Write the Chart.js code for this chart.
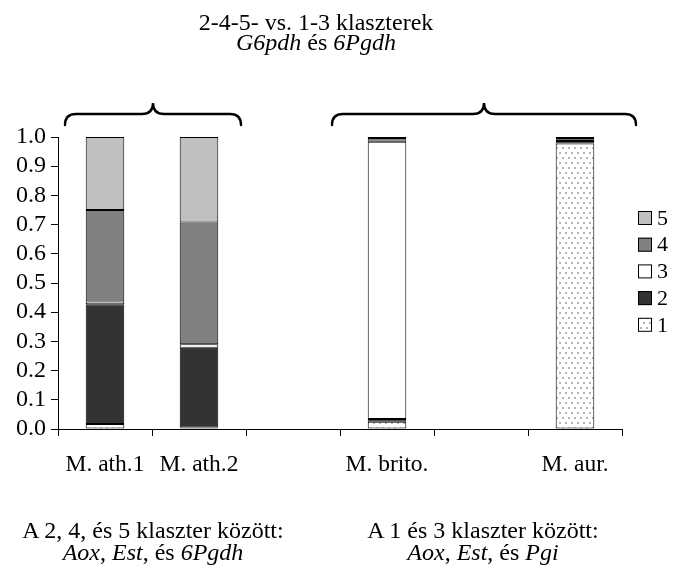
<!DOCTYPE html>
<html>
<head>
<meta charset="utf-8">
<script src="https://cdn.jsdelivr.net/npm/chart.js@4/dist/chart.umd.min.js"></script>
<style>
  html, body { margin:0; padding:0; background:#fff; }
  #wrap { position:relative; width:674px; height:568px; overflow:hidden; }
  canvas { position:absolute; left:0; top:0; }
  .txt { position:absolute; font-family:'Liberation Serif', serif; font-size:24px; line-height:22px; color:#000; text-align:center; white-space:nowrap; }
  .txt i { font-family:'Liberation Serif', serif; font-style:italic; }
</style>
</head>
<body>
<div id="wrap">
  <canvas id="c" width="674" height="568"></canvas>
  <div class="txt" style="left:116px; top:12px; width:400px; line-height:20px;">2-4-5- vs. 1-3 klaszterek<br><i>G6pdh</i> és <i>6Pgdh</i></div>
  <div class="txt" style="left:-47px; top:519px; width:400px;">A 2, 4, és 5 klaszter között:<br><i>Aox</i>, <i>Est</i>, és <i>6Pgdh</i></div>
  <div class="txt" style="left:283px; top:519px; width:400px;">A 1 és 3 klaszter között:<br><i>Aox</i>, <i>Est</i>, és <i>Pgi</i></div>
</div>
<script>
// ---- data ----
const categories = ["M. ath.1", "M. ath.2", "", "M. brito.", "", "M. aur."];
const seriesNames = ["1", "2", "3", "4", "5"];
const s1 = [0.017, 0.005, null, 0.025, null, 0.978];
const s2 = [0.410, 0.273, null, 0.009, null, 0.008];
const s3 = [0.010, 0.012, null, 0.950, null, 0.006];
const s4 = [0.313, 0.417, null, 0.013, null, 0.005];
const s5 = [0.250, 0.293, null, 0.003, null, 0.003];
const yTicks = [0, 0.1, 0.2, 0.3, 0.4, 0.5, 0.6, 0.7, 0.8, 0.9, 1.0];

// ---- styles ----
function makeDots() {
  const c = document.createElement('canvas');
  c.width = 6; c.height = 10;
  const x = c.getContext('2d');
  x.fillStyle = '#ffffff'; x.fillRect(0, 0, 6, 10);
  x.fillStyle = '#b4b4b4';
  x.fillRect(1, 2, 2, 2);
  x.fillRect(4, 7, 2, 2);
  return x.createPattern(c, 'repeat');
}
const FONT = "'Liberation Serif', serif";

function build() {
  const dots = makeDots();
  const fills = [dots, '#333333', '#ffffff', '#808080', '#c0c0c0'];
  const values = [s1, s2, s3, s4, s5];

  const datasets = values.map((v, i) => ({
    label: seriesNames[i],
    data: v,
    backgroundColor: fills[i],
    borderColor: '#000000',
    borderWidth: 1,
    borderSkipped: false,
    barPercentage: 0.41,
    categoryPercentage: 1.0
  }));

  const bracePlugin = {
    id: 'braces',
    afterDraw(chart) {
      const ctx = chart.ctx, xs = chart.scales.x, top = chart.chartArea.top;
      const groups = [
        [xs.getPixelForValue(0) - 40, xs.getPixelForValue(1) + 42],
        [xs.getPixelForValue(3) - 55, xs.getPixelForValue(5) + 61]
      ];
      const yEnd = top - 12, yMid = top - 23, yPeak = top - 34, r = 11;
      ctx.save();
      ctx.strokeStyle = '#000'; ctx.lineWidth = 2.4; ctx.lineCap = 'round';
      groups.forEach(([x0, x1]) => {
        const xc = (x0 + x1) / 2;
        ctx.beginPath();
        ctx.moveTo(x0, yEnd);
        ctx.quadraticCurveTo(x0, yMid, x0 + r, yMid);
        ctx.lineTo(xc - r, yMid);
        ctx.quadraticCurveTo(xc, yMid, xc, yPeak);
        ctx.quadraticCurveTo(xc, yMid, xc + r, yMid);
        ctx.lineTo(x1 - r, yMid);
        ctx.quadraticCurveTo(x1, yMid, x1, yEnd);
        ctx.stroke();
      });
      ctx.restore();
    }
  };

  const legendPlugin = {
    id: 'sideLegend',
    afterDraw(chart) {
      const ctx = chart.ctx, area = chart.chartArea;
      const ds = chart.data.datasets.slice().reverse();
      const boxX = area.right + 16, box = 14, step = 26.7;
      let y = area.top + 81;
      ctx.save();
      ctx.font = '22px ' + FONT;
      ctx.textBaseline = 'middle';
      ctx.textAlign = 'left';
      ds.forEach(d => {
        ctx.fillStyle = d.backgroundColor;
        ctx.fillRect(boxX, y - box / 2, box, box);
        ctx.strokeStyle = '#000'; ctx.lineWidth = 1;
        ctx.strokeRect(boxX + 0.5, y - box / 2 + 0.5, box - 1, box - 1);
        ctx.fillStyle = '#000';
        ctx.fillText(d.label, boxX + box + 5, y + 1);
        y += step;
      });
      ctx.restore();
    }
  };

  new Chart(document.getElementById('c'), {
    type: 'bar',
    data: { labels: categories, datasets },
    options: {
      responsive: false,
      animation: false,
      devicePixelRatio: 1,
      layout: { padding: { top: 137, right: 52, left: 0, bottom: 0 } },
      plugins: { legend: { display: false }, title: { display: false }, tooltip: { enabled: false } },
      scales: {
        x: {
          stacked: true,
          offset: true,
          grid: { offset: true, drawOnChartArea: false, drawTicks: true, tickLength: 7, color: '#000', lineWidth: 1 },
          border: { color: '#000', width: 1 },
          ticks: { autoSkip: false, maxRotation: 0, minRotation: 0, color: '#000', font: { family: FONT, size: 23.5 }, padding: 15 },
          afterFit(s) { s.height = 139; }
        },
        y: {
          stacked: true,
          min: 0, max: 1,
          afterBuildTicks(s) { s.ticks = yTicks.map(v => ({ value: v })); },
          ticks: { autoSkip: false, color: '#000', font: { family: FONT, size: 24, lineHeight: 1 }, padding: 5, callback: v => Number(v).toFixed(1) },
          grid: { drawOnChartArea: false, tickLength: 7, color: '#000', lineWidth: 1 },
          border: { color: '#000', width: 1 },
          afterFit(s) { s.width = 58; }
        }
      }
    },
    plugins: [bracePlugin, legendPlugin]
  });
}

const loads = [
  document.fonts.load("22px 'Liberation Serif'"),
  document.fonts.load("italic 22px 'Liberation Serif'")
];
Promise.all(loads).then(build, build);
</script>
</body>
</html>
